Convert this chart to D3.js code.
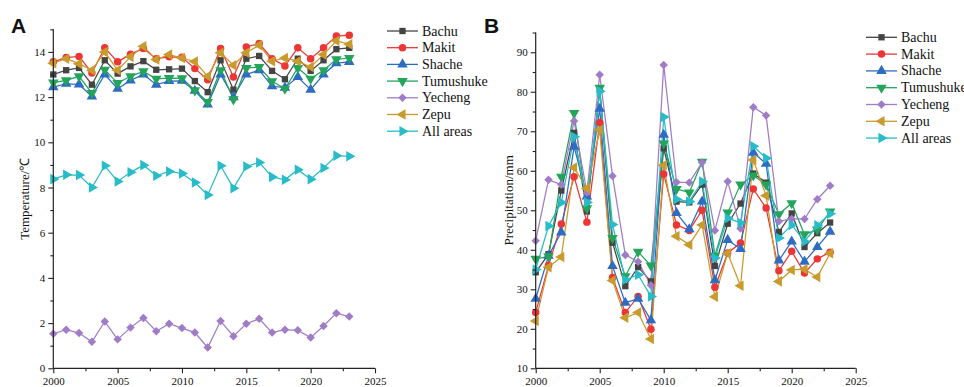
<!DOCTYPE html>
<html><head><meta charset="utf-8">
<script src="https://cdn.jsdelivr.net/npm/d3@7"></script>
<style>body{margin:0;background:#fff;}svg{display:block;}</style>
</head><body><svg id="c" width="964" height="387"></svg>
<script>
const years = [2000,2001,2002,2003,2004,2005,2006,2007,2008,2009,2010,2011,2012,2013,2014,2015,2016,2017,2018,2019,2020,2021,2022,2023];
const seriesNames = ["Bachu","Makit","Shache","Tumushuke","Yecheng","Zepu","All areas"];
const colors = ["#444444","#ee3535","#2e6bc2","#22a45a","#a07cc6","#c99a2c","#27bcc8"];
const symbols = ["square","circle","up","down","diamond","left","right"];

const tBachu = [13.0,13.19,13.29,12.55,13.63,13.04,13.36,13.59,13.21,13.23,13.26,12.71,12.22,13.63,12.33,13.7,13.82,13.16,12.79,13.7,13.16,13.63,14.12,14.18];
const tMakit = [13.56,13.75,13.8,13.07,14.18,13.56,13.9,14.15,13.7,13.78,13.76,13.26,12.77,14.15,12.89,14.22,14.37,13.7,13.38,14.18,13.7,14.18,14.7,14.74];
const tShache = [12.44,12.59,12.56,12.03,13.0,12.37,12.74,13.0,12.55,12.71,12.72,12.28,11.67,13.0,12.0,13.0,13.19,12.48,12.42,12.89,12.33,13.0,13.5,13.56];
const tTumushuke = [12.64,12.74,12.92,12.18,13.21,12.62,12.92,13.14,12.81,12.84,12.83,12.3,11.78,13.19,11.9,13.29,13.33,12.7,12.37,13.29,12.81,13.19,13.67,13.73];
const tYecheng = [1.53,1.71,1.56,1.17,2.07,1.28,1.8,2.23,1.64,1.97,1.78,1.58,0.92,2.09,1.42,1.97,2.19,1.58,1.71,1.68,1.36,1.87,2.44,2.29];
const tZepu = [13.5,13.7,13.48,13.19,14.0,13.19,13.78,14.25,13.66,13.88,13.73,13.57,12.92,13.96,13.41,13.96,14.3,13.59,13.73,13.59,13.33,13.88,14.49,14.34];
const tAll = [8.37,8.56,8.55,8.0,8.96,8.27,8.67,8.99,8.52,8.71,8.62,8.22,7.67,8.96,7.97,8.93,9.11,8.47,8.34,8.79,8.37,8.86,9.41,9.38];

const pBachu = [34.3,38.9,55.0,69.6,49.7,80.5,41.8,30.8,35.6,32.0,65.7,52.2,52.0,56.5,35.9,46.6,51.7,59.3,57.0,44.5,49.2,40.7,44.2,46.9];
const pMakit = [24.1,36.0,46.5,58.5,47.0,72.2,33.0,24.1,28.2,19.9,59.2,46.3,44.9,50.0,30.5,39.2,41.7,55.4,50.6,34.7,39.6,34.1,37.7,39.4];
const pShache = [27.6,38.5,44.4,66.1,53.5,75.7,35.9,26.6,27.6,22.2,69.1,49.3,45.2,52.2,32.3,42.5,40.2,64.6,61.8,37.3,42.1,37.0,40.7,44.6];
const pTumushuke = [37.7,38.3,58.5,74.6,50.5,81.0,43.0,33.3,39.5,36.0,66.9,55.4,54.5,62.3,38.5,49.4,56.5,58.8,56.5,49.0,51.8,43.9,45.1,49.7];
const pYecheng = [42.3,57.7,56.5,72.6,54.5,84.3,58.7,38.7,37.0,31.0,86.8,57.1,57.0,62.1,44.9,57.3,45.4,76.1,74.0,47.2,47.8,47.8,52.8,56.2];
const pZepu = [22.0,35.6,38.2,60.8,55.5,70.3,32.2,22.8,24.1,17.4,61.4,43.4,41.3,46.3,28.1,39.1,30.9,62.7,53.7,32.0,34.9,35.1,33.1,39.1];
const pAll = [35.0,46.0,52.0,68.6,52.0,80.1,46.4,32.4,33.7,28.2,73.6,52.8,52.2,57.3,37.9,48.0,46.8,66.2,63.2,43.0,46.3,42.1,46.2,49.1];

const tempSeries = [tBachu,tMakit,tShache,tTumushuke,tYecheng,tZepu,tAll];
const precSeries = [pBachu,pMakit,pShache,pTumushuke,pYecheng,pZepu,pAll];

const xTicks = [2000,2005,2010,2015,2020,2025];
const tempTicks = [0,2,4,6,8,10,12,14];
const precTicks = [10,20,30,40,50,60,70,80,90];

const svg = d3.select("#c");
const FONT = "'Liberation Serif','Times New Roman',serif";

function symPath(kind){
  switch(kind){
    case "square": return {d: d3.symbol(d3.symbolSquare, 40)(), r:0};
    case "circle": return {d: d3.symbol(d3.symbolCircle, 44)(), r:0};
    case "up": return {d: d3.symbol(d3.symbolTriangle, 48)(), r:0};
    case "down": return {d: d3.symbol(d3.symbolTriangle, 48)(), r:180};
    case "left": return {d: d3.symbol(d3.symbolTriangle, 48)(), r:-90};
    case "right": return {d: d3.symbol(d3.symbolTriangle, 48)(), r:90};
    case "diamond": return {d: d3.symbol(d3.symbolSquare, 36)(), r:45};
  }
}

function panel(opts){
  const {x0,x1,yTop,yBot,yDomain,yTicks,yMinorStep,series,label,labelX,title,titleX} = opts;
  const x = d3.scaleLinear().domain([2000,2025]).range([x0,x1]);
  const y = d3.scaleLinear().domain(yDomain).range([yBot,yTop]);
  const g = svg.append("g");

  series.forEach((vals,i)=>{
    const line = d3.line().x((d,j)=>x(years[j])).y(d=>y(d));
    g.append("path").datum(vals).attr("d",line).attr("fill","none")
      .attr("stroke",colors[i]).attr("stroke-width",1.25);
  });
  series.forEach((vals,i)=>{
    const sp = symPath(symbols[i]);
    g.selectAll(null).data(vals).enter().append("path")
      .attr("d",sp.d).attr("fill",colors[i])
      .attr("transform",(d,j)=>`translate(${x(years[j])},${y(d)}) rotate(${sp.r})`);
  });

  const xAxis = d3.axisBottom(x).tickValues(xTicks).tickFormat(d3.format("d")).tickSize(5).tickPadding(4);
  const gx = svg.append("g").attr("transform",`translate(0,${yBot})`).call(xAxis);
  const xMinor = d3.axisBottom(x).tickValues(xTicks.slice(0,-1).map(v=>v+2.5)).tickFormat("").tickSize(3);
  const gxm = svg.append("g").attr("transform",`translate(0,${yBot})`).call(xMinor);
  gxm.select(".domain").remove();

  const yAxis = d3.axisLeft(y).tickValues(yTicks).tickSize(5).tickPadding(3);
  const gy = svg.append("g").attr("transform",`translate(${x0},0)`).call(yAxis);
  const minorVals = d3.range(yDomain[0], yDomain[1]+0.001, yMinorStep).filter(v=>!yTicks.includes(v));
  const yMinor = d3.axisLeft(y).tickValues(minorVals).tickFormat("").tickSize(3);
  const gym = svg.append("g").attr("transform",`translate(${x0},0)`).call(yMinor);
  gym.select(".domain").remove();

  [gx,gxm,gy,gym].forEach(a=>{
    a.selectAll(".domain").attr("stroke","#222").attr("stroke-width",1.2);
    a.selectAll(".tick line").attr("stroke","#222").attr("stroke-width",1.1);
    a.selectAll("text").attr("font-family",FONT).attr("font-size",11).attr("fill","#111");
  });
  gx.select(".domain").attr("d",`M${x0},0H${x1}`);
  gy.select(".domain").attr("d",`M0,${yBot}V${yTop}`);

  svg.append("text").attr("transform",`translate(${titleX},${(yTop+yBot)/2}) rotate(-90)`)
    .attr("text-anchor","middle").attr("font-family",FONT).attr("font-size",13).attr("fill","#111").text(title);
  svg.append("text").attr("x",labelX).attr("y",33).attr("font-family","'Liberation Sans',Arial,sans-serif")
    .attr("font-weight","bold").attr("font-size",21).attr("fill","#111").text(label);
}

function legend(lx,ly,step){
  const g = svg.append("g");
  seriesNames.forEach((n,i)=>{
    const yy = ly + i*step;
    g.append("line").attr("x1",lx).attr("x2",lx+31).attr("y1",yy).attr("y2",yy)
      .attr("stroke",colors[i]).attr("stroke-width",1.3);
    const sp = symPath(symbols[i]);
    g.append("path").attr("d",sp.d).attr("fill",colors[i])
      .attr("transform",`translate(${lx+15.5},${yy}) rotate(${sp.r})`);
    g.append("text").attr("x",lx+35).attr("y",yy+4.5).attr("font-family",FONT)
      .attr("font-size",14).attr("fill","#111").text(n);
  });
}

panel({x0:53.3,x1:375,yTop:29.3,yBot:368.3,yDomain:[0,15],yTicks:tempTicks,yMinorStep:1,
  series:tempSeries,label:"A",labelX:11,title:"Temperature/℃",titleX:29});
panel({x0:535.7,x1:855.7,yTop:32.5,yBot:368.3,yDomain:[10,95],yTicks:precTicks,yMinorStep:5,
  series:precSeries,label:"B",labelX:484,title:"Precipitation/mm",titleX:513});
legend(387,31,16.7);
legend(866,37.3,16.8);
</script></body></html>
